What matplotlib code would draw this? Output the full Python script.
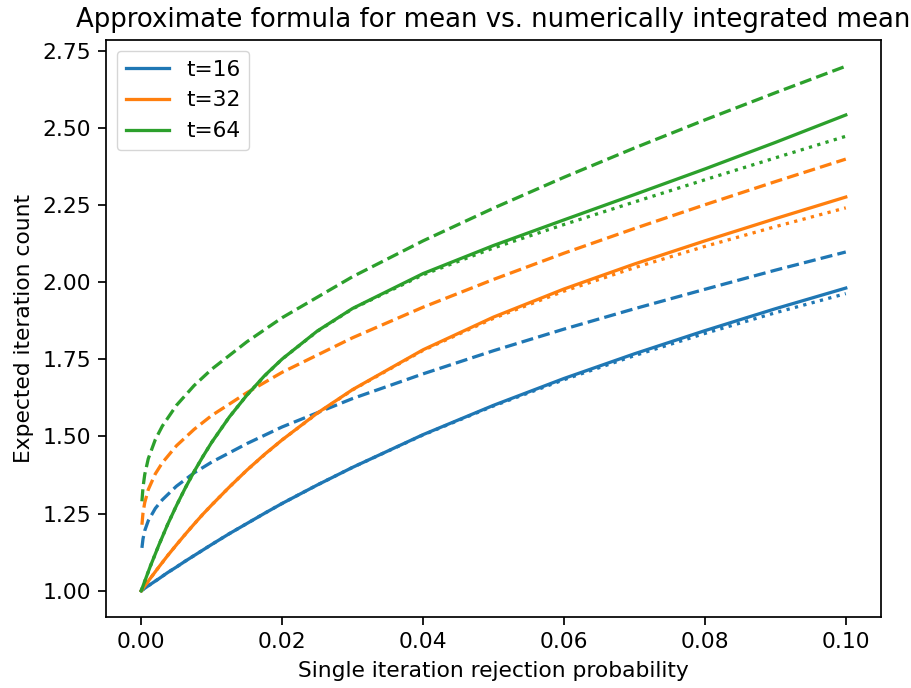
import matplotlib
matplotlib.use("Agg")
import matplotlib.pyplot as plt

S = 1.5625

# x grid for the integrated mean (solid) and the truncated sum (dotted)
p_main = [0.0, 0.00125, 0.0025, 0.00375, 0.005, 0.00625, 0.0075, 0.00875,
          0.01, 0.0125, 0.015, 0.0175, 0.02, 0.025, 0.03, 0.04, 0.05, 0.06,
          0.07, 0.08, 0.09, 0.1]

solid_16 = [1.0, 1.020, 1.039, 1.059, 1.077, 1.096, 1.114, 1.132, 1.150,
            1.185, 1.218, 1.251, 1.283, 1.343, 1.400, 1.506, 1.601, 1.688,
            1.768, 1.843, 1.914, 1.981]
solid_32 = [1.0, 1.039, 1.077, 1.114, 1.149, 1.183, 1.216, 1.248, 1.278,
            1.336, 1.391, 1.442, 1.489, 1.576, 1.652, 1.781, 1.887, 1.978,
            2.059, 2.134, 2.206, 2.276]
solid_64 = [1.0, 1.077, 1.148, 1.215, 1.276, 1.333, 1.386, 1.435, 1.481,
            1.563, 1.634, 1.697, 1.751, 1.842, 1.915, 2.028, 2.119, 2.202,
            2.284, 2.367, 2.453, 2.542]

dot_16 = [1.0, 1.020, 1.039, 1.059, 1.077, 1.096, 1.114, 1.132, 1.150,
          1.185, 1.218, 1.251, 1.283, 1.343, 1.400, 1.505, 1.599, 1.684,
          1.762, 1.834, 1.901, 1.963]
dot_32 = [1.0, 1.039, 1.077, 1.114, 1.149, 1.183, 1.216, 1.248, 1.278,
          1.336, 1.391, 1.441, 1.489, 1.575, 1.651, 1.779, 1.883, 1.971,
          2.047, 2.116, 2.180, 2.241]
dot_64 = [1.0, 1.077, 1.148, 1.215, 1.276, 1.333, 1.386, 1.435, 1.481,
          1.563, 1.634, 1.696, 1.751, 1.841, 1.914, 2.024, 2.111, 2.187,
          2.260, 2.332, 2.403, 2.473]

# x grid for the approximate formula (dashed)
p_approx = [0.0001, 0.00025, 0.0005, 0.001, 0.002, 0.003, 0.005, 0.0075,
            0.01, 0.015, 0.02, 0.03, 0.04, 0.05, 0.06, 0.07, 0.08, 0.09, 0.1]
dash_16 = [1.139, 1.168, 1.195, 1.227, 1.267, 1.295, 1.339, 1.382, 1.417,
           1.477, 1.531, 1.623, 1.703, 1.778, 1.848, 1.914, 1.977, 2.039, 2.098]
dash_32 = [1.214, 1.252, 1.286, 1.328, 1.379, 1.415, 1.470, 1.523, 1.568,
           1.642, 1.708, 1.820, 1.919, 2.009, 2.094, 2.174, 2.251, 2.326, 2.399]
dash_64 = [1.290, 1.335, 1.377, 1.428, 1.490, 1.534, 1.601, 1.665, 1.718,
           1.807, 1.885, 2.018, 2.134, 2.240, 2.340, 2.435, 2.526, 2.614, 2.700]

labels = ["t=16", "t=32", "t=64"]
colors = ["#1f77b4", "#ff7f0e", "#2ca02c"]

plt.rcParams.update({
    "font.family": ["DejaVu Sans"],
    "font.size": 10 * S,
    "axes.linewidth": 0.8 * S,
    "xtick.major.width": 0.8 * S,
    "ytick.major.width": 0.8 * S,
    "xtick.major.size": 3.5 * S,
    "ytick.major.size": 3.5 * S,
    "xtick.major.pad": 3.5 * S,
    "ytick.major.pad": 3.5 * S,
})

fig = plt.figure(figsize=(9.12, 6.88), dpi=100)
ax = fig.add_axes([106 / 912, 1 - 617 / 688, 775 / 912, 577 / 688])

lw = 1.5 * S
for lab, col, s, d, o in zip(labels, colors,
                             [solid_16, solid_32, solid_64],
                             [dash_16, dash_32, dash_64],
                             [dot_16, dot_32, dot_64]):
    ax.plot(p_main, s, color=col, lw=lw, label=lab)
    ax.plot(p_approx, d, color=col, lw=lw, ls="--")
    ax.plot(p_main, o, color=col, lw=lw, ls=":")

ax.set_yticks([1.0, 1.25, 1.5, 1.75, 2.0, 2.25, 2.5, 2.75])
ax.set_xticks([0.0, 0.02, 0.04, 0.06, 0.08, 0.1])
ax.tick_params(labelsize=10 * S)
ax.set_xlabel("Single iteration rejection probability", fontsize=10 * S, labelpad=4 * S)
ax.set_ylabel("Expected iteration count", fontsize=10 * S, labelpad=4 * S)
ax.set_title("Approximate formula for mean vs. numerically integrated mean",
             fontsize=12 * S, pad=6 * S)
ax.legend(loc="upper left", fontsize=10 * S)

fig.savefig("out.png", dpi=100)
